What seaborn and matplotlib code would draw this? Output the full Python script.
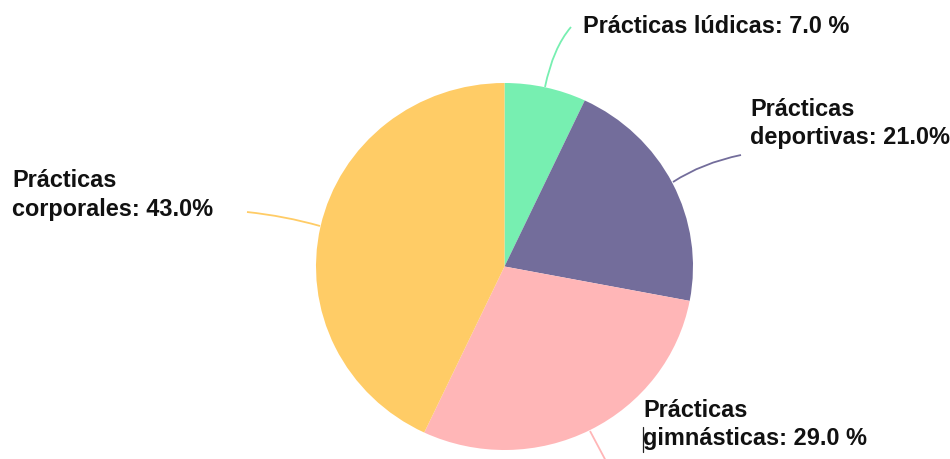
import matplotlib
matplotlib.use("Agg")
import matplotlib.pyplot as plt
import seaborn as sns
from matplotlib.path import Path
from matplotlib.patches import PathPatch

# ---- data ----
categories = ["Prácticas lúdicas", "Prácticas deportivas", "Prácticas gimnásticas", "Prácticas corporales"]
values = [7.0, 21.0, 29.0, 43.0]
label_line1 = ["Prácticas lúdicas: 7.0 %", "Prácticas", "Prácticas", "Prácticas"]
label_line2 = ["", "deportivas: 21.0%", "gimnásticas: 29.0 %", "corporales: 43.0%"]
colors = ["#77EFB1", "#736D9B", "#FFB6B7", "#FFCC66"]

sns.set_theme(style="white")
plt.rcParams['font.family'] = ['Liberation Sans', 'DejaVu Sans']

W, H = 950, 459
fig = plt.figure(figsize=(W / 100, H / 100), dpi=100)
fig.patch.set_facecolor("white")

# pie axes (pixel box of the pie)
left, right, top, bottom = 316, 693, 83, 450
ax = fig.add_axes([left / W, 1 - bottom / H, (right - left) / W, (bottom - top) / H])
ax.pie(values, colors=colors, startangle=90, counterclock=False, radius=1,
       wedgeprops=dict(linewidth=0))
ax.set_aspect("auto")
ax.set_xlim(-1, 1)
ax.set_ylim(-1, 1)
ax.axis("off")

# overlay axes in pixel coordinates
ov = fig.add_axes([0, 0, 1, 1])
ov.set_xlim(0, W)
ov.set_ylim(H, 0)
ov.axis("off")
ov.patch.set_alpha(0)

# leader lines (start, control, end) in pixels, same order as categories
leaders = [
    ((545, 87), (553, 48), (571, 27)),
    ((673, 182), (702, 163), (741, 155)),
    ((590, 431), (598, 446), (607, 463)),
    ((320, 226), (285, 216), (247, 212)),
]
for (p0, c, p1), col in zip(leaders, colors):
    path = Path([p0, c, p1], [Path.MOVETO, Path.CURVE3, Path.CURVE3])
    ov.add_patch(PathPatch(path, facecolor="none", edgecolor=col, lw=1.3))

# labels: (x, baseline1, baseline2)
label_pos = [(583, 33, None), (750, 116, 144), (643, 417, 445), (12, 187, 216)]
fs = 16.9
for (x, y1, y2), l1, l2 in zip(label_pos, label_line1, label_line2):
    ov.text(x, y1, l1, fontsize=fs, fontweight="bold", color="#111111",
            ha="left", va="baseline")
    if y2 is not None and l2:
        ov.text(x, y2, l2, fontsize=fs, fontweight="bold", color="#111111",
                ha="left", va="baseline")

# small text-cursor mark before "gimnásticas"
ov.plot([643, 643], [427, 452], color="#222222", lw=0.9)

fig.savefig("out.png", dpi=100, facecolor="white")
